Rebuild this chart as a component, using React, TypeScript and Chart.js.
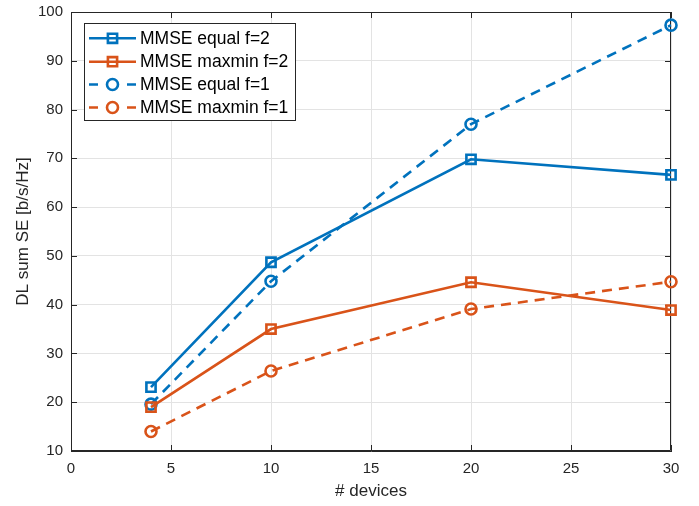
import React, { useEffect, useRef } from "react";
import { Chart, registerables } from "chart.js";

Chart.register(...registerables);

const devices = [4, 10, 20, 30];
const equalF2 = [23.1, 48.7, 69.8, 66.6];
const maxminF2 = [19.0, 35.0, 44.6, 38.9];
const equalF1 = [19.6, 44.8, 77.0, 97.3];
const maxminF1 = [14.0, 26.4, 39.1, 44.7];
const seriesNames = ["MMSE equal f=2", "MMSE maxmin f=2", "MMSE equal f=1", "MMSE maxmin f=1"];
const xTicks = [0, 5, 10, 15, 20, 25, 30];
const yTicks = [10, 20, 30, 40, 50, 60, 70, 80, 90, 100];
const xTitle = "# devices";
const yTitle = "DL sum SE [b/s/Hz]";

const BLUE = "#0072BD";
const ORANGE = "#D95319";
const AXIS = "#262626";
const GRID = "#e3e3e3";
const FONT = "'Liberation Sans', Arial, Helvetica, sans-serif";

type Series = { name: string; values: number[]; color: string; dashed: boolean; marker: "rect" | "circle" };

const series: Series[] = [
  { name: seriesNames[0], values: equalF2, color: BLUE, dashed: false, marker: "rect" },
  { name: seriesNames[1], values: maxminF2, color: ORANGE, dashed: false, marker: "rect" },
  { name: seriesNames[2], values: equalF1, color: BLUE, dashed: true, marker: "circle" },
  { name: seriesNames[3], values: maxminF1, color: ORANGE, dashed: true, marker: "circle" },
];

const DASH = [10, 7];

const boxPlugin = {
  id: "matlabBox",
  beforeDatasetsDraw(chart: any) {
    const { ctx, chartArea } = chart;
    const { left, right, top, bottom } = chartArea;
    const xs = chart.scales.x;
    const ys = chart.scales.y;
    ctx.save();
    ctx.strokeStyle = AXIS;
    ctx.lineWidth = 1;
    ctx.beginPath();
    ctx.rect(left + 0.5, top + 0.5, right - left - 1, bottom - top - 1);
    ctx.stroke();
    const tl = 6;
    ctx.beginPath();
    xTicks.forEach((v) => {
      const px = Math.round(xs.getPixelForValue(v)) + 0.5;
      ctx.moveTo(px, bottom);
      ctx.lineTo(px, bottom - tl);
      ctx.moveTo(px, top);
      ctx.lineTo(px, top + tl);
    });
    yTicks.forEach((v) => {
      const py = Math.round(ys.getPixelForValue(v)) + 0.5;
      ctx.moveTo(left, py);
      ctx.lineTo(left + tl, py);
      ctx.moveTo(right, py);
      ctx.lineTo(right - tl, py);
    });
    ctx.stroke();

    ctx.fillStyle = AXIS;
    ctx.font = `17px ${FONT}`;
    ctx.textAlign = "center";
    ctx.textBaseline = "middle";
    ctx.fillText(xTitle, (left + right) / 2, 491);
    ctx.translate(23, (top + bottom) / 2);
    ctx.rotate(-Math.PI / 2);
    ctx.fillText(yTitle, 0, 0);
    ctx.restore();
  },
  afterDraw(chart: any) {
    const { ctx } = chart;
    ctx.save();
    const lx = 84.5, ly = 23.5, lw = 211, lh = 97;
    ctx.fillStyle = "#ffffff";
    ctx.fillRect(lx, ly, lw, lh);
    ctx.strokeStyle = AXIS;
    ctx.lineWidth = 1;
    ctx.strokeRect(lx, ly, lw, lh);
    const rows = [38.3, 61.7, 84.5, 107.5];
    series.forEach((s, i) => {
      const y = rows[i];
      ctx.strokeStyle = s.color;
      ctx.lineWidth = 2.6;
      ctx.setLineDash([]);
      ctx.beginPath();
      if (s.dashed) {
        ctx.moveTo(89, y);
        ctx.lineTo(98, y);
        ctx.moveTo(127, y);
        ctx.lineTo(136, y);
      } else {
        ctx.moveTo(89, y);
        ctx.lineTo(136, y);
      }
      ctx.stroke();
      ctx.beginPath();
      const mx = 112.5;
      if (s.marker === "rect") {
        ctx.rect(mx - 4.6, y - 4.6, 9.2, 9.2);
      } else {
        ctx.arc(mx, y, 5.5, 0, Math.PI * 2);
      }
      ctx.stroke();
      ctx.fillStyle = "#000000";
      ctx.font = `17.5px ${FONT}`;
      ctx.textAlign = "left";
      ctx.textBaseline = "middle";
      ctx.fillText(s.name, 140, y + 0.5);
    });
    ctx.restore();
  },
};

export default function App() {
  const ref = useRef<HTMLCanvasElement | null>(null);
  useEffect(() => {
    if (!ref.current) return;
    const chart = new Chart(ref.current, {
      type: "line",
      data: {
        datasets: series.map((s) => ({
          label: s.name,
          data: devices.map((d, i) => ({ x: d, y: s.values[i] })),
          borderColor: s.color,
          backgroundColor: "transparent",
          borderWidth: 2.6,
          borderDash: s.dashed ? DASH : [],
          pointStyle: s.marker,
          pointRadius: s.marker === "rect" ? 6.5 : 5.5,
          pointBorderWidth: 2.6,
          pointBorderColor: s.color,
          pointBackgroundColor: "transparent",
          fill: false,
          tension: 0,
          clip: false,
        })),
      },
      options: {
        responsive: false,
        animation: false,
        devicePixelRatio: 1,
        layout: { padding: { top: 12, right: 28, left: 0, bottom: 0 } },
        plugins: { legend: { display: false }, tooltip: { enabled: false } },
        scales: {
          x: {
            type: "linear",
            min: 0,
            max: 30,
            afterFit: (scale: any) => {
              scale.height = 55;
              scale.paddingLeft = 0;
              scale.paddingRight = 0;
            },
            afterBuildTicks: (scale: any) => {
              scale.ticks = xTicks.map((v) => ({ value: v }));
            },
            ticks: {
              color: AXIS,
              font: { size: 15, family: FONT },
              padding: 9,
              maxRotation: 0,
            },
            grid: { color: GRID, drawTicks: false, tickLength: 0 },
            border: { display: true, color: AXIS },
          },
          y: {
            type: "linear",
            min: 10,
            max: 100,
            afterFit: (scale: any) => {
              scale.width = 71;
              scale.paddingTop = 0;
              scale.paddingBottom = 0;
            },
            afterBuildTicks: (scale: any) => {
              scale.ticks = yTicks.map((v) => ({ value: v }));
            },
            ticks: {
              color: AXIS,
              font: { size: 15, family: FONT },
              padding: 8,
            },
            grid: { color: GRID, drawTicks: false, tickLength: 0 },
            border: { display: true, color: AXIS },
          },
        },
      },
      plugins: [boxPlugin],
    } as any);
    return () => chart.destroy();
  }, []);
  return (
    <div style={{ position: "fixed", left: 0, top: 0, width: 699, height: 506, background: "#fff" }}>
      <canvas ref={ref} width={699} height={506} />
    </div>
  );
}
